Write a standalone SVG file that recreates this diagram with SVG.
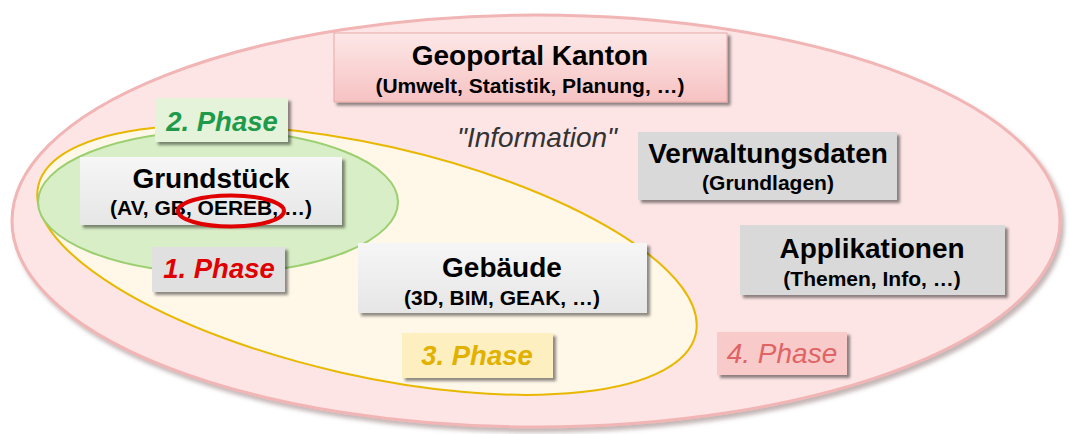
<svg xmlns="http://www.w3.org/2000/svg" width="1069" height="434" viewBox="0 0 1069 434">
<defs>
<filter id="sh" x="-10%" y="-20%" width="130%" height="150%">
<feDropShadow dx="3" dy="3" stdDeviation="1.5" flood-color="#000" flood-opacity="0.45"/>
</filter>
<filter id="esh" x="-5%" y="-5%" width="110%" height="115%">
<feDropShadow dx="3" dy="4" stdDeviation="2" flood-color="#7a5a5a" flood-opacity="0.45"/>
</filter>
<linearGradient id="gp" x1="0" y1="0" x2="0" y2="1">
<stop offset="0" stop-color="#fde7e7"/>
<stop offset="1" stop-color="#f6c2c2"/>
</linearGradient>
<linearGradient id="gg" x1="0" y1="0" x2="0" y2="1">
<stop offset="0" stop-color="#f6f6f6"/>
<stop offset="1" stop-color="#e6e6e6"/>
</linearGradient>
<style>
text{font-family:"Liberation Sans",Arial,sans-serif;text-anchor:middle;fill:#000}
.t{font-size:28px;font-weight:bold}
.s{font-size:21px;font-weight:bold}
.p{font-size:27.5px;font-weight:bold;font-style:italic}
.box{filter:url(#sh)}
</style>
</defs>
<rect width="1069" height="434" fill="#fff"/>
<g id="phase4-area">
<ellipse cx="536" cy="221" rx="524" ry="206" fill="#fde5e5" stroke="#f1b5b5" stroke-width="3" filter="url(#esh)"/>
</g>
<g id="phase3-area">
<ellipse cx="367" cy="260" rx="337" ry="115.5" transform="rotate(12.7 367 260)" fill="#fff7e8" stroke="#e8b800" stroke-width="2"/>
</g>
<g id="phase2-area">
<ellipse cx="218" cy="202" rx="180" ry="71" fill="#d8eec6" stroke="#9ccf70" stroke-width="2"/>
</g>
<g id="geoportal">
<rect class="box" x="334" y="33" width="393" height="69" fill="url(#gp)" stroke="#e8a8a8" stroke-width="1"/>
<text class="t" x="530" y="65">Geoportal Kanton</text>
<text class="s" x="530" y="93">(Umwelt, Statistik, Planung, …)</text>
</g>
<g id="phase2-label">
<rect class="box" x="155" y="98" width="133" height="44" fill="#e5f3da"/>
<text class="p" x="222" y="131" style="fill:#1f9a4a">2. Phase</text>
</g>
<g id="information">
<text x="537" y="147" style="font-size:28px;font-style:italic;fill:#333">"Information"</text>
</g>
<g id="verwaltungsdaten">
<rect class="box" x="638" y="132" width="259" height="68" fill="#d9d9d9"/>
<text class="t" x="768" y="163">Verwaltungsdaten</text>
<text class="s" x="768" y="190">(Grundlagen)</text>
</g>
<g id="grundstueck">
<rect class="box" x="80" y="157" width="262" height="68" fill="url(#gg)"/>
<text class="t" x="211" y="188">Grundstück</text>
<text class="s" x="211" y="215">(AV, GB, OEREB, …)</text>
<ellipse cx="231" cy="211" rx="53" ry="15.5" fill="none" stroke="#e00000" stroke-width="4"/>
</g>
<g id="phase1-label">
<rect class="box" x="152" y="247" width="133" height="45" fill="#e0e0e0"/>
<text class="p" x="219" y="278" style="fill:#e00000">1. Phase</text>
</g>
<g id="gebaeude">
<rect class="box" x="358" y="243" width="289" height="70" fill="url(#gg)"/>
<text class="t" x="502" y="277">Gebäude</text>
<text class="s" x="502" y="305">(3D, BIM, GEAK, …)</text>
</g>
<g id="phase3-label">
<rect class="box" x="402" y="333" width="151" height="45" fill="#fdefbf"/>
<text class="p" x="477" y="365" style="fill:#e2b100">3. Phase</text>
</g>
<g id="applikationen">
<rect class="box" x="740" y="225" width="265" height="70" fill="#d9d9d9"/>
<text class="t" x="872" y="258">Applikationen</text>
<text class="s" x="872" y="286">(Themen, Info, …)</text>
</g>
<g id="phase4-label">
<rect class="box" x="717" y="332" width="130" height="43" fill="#f8caca"/>
<text class="p" x="782" y="363" style="fill:#e06464;font-weight:normal;font-size:28px">4. Phase</text>
</g>
<g id="connectors"/>
</svg>
